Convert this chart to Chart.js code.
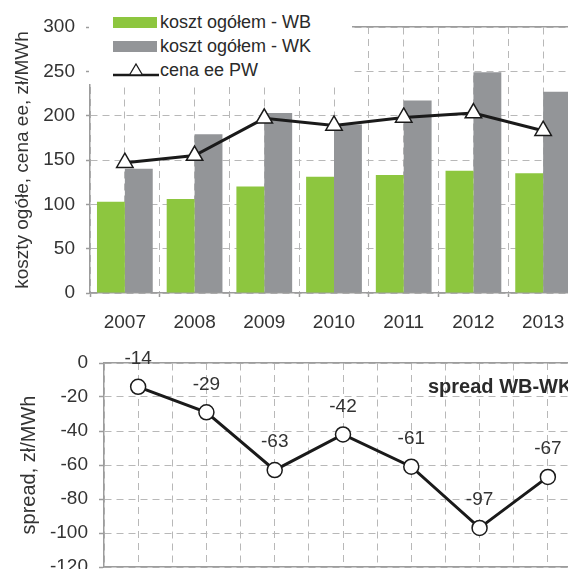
<!DOCTYPE html>
<html><head><meta charset="utf-8">
<script src="https://cdn.jsdelivr.net/npm/chart.js@4.4.1/dist/chart.umd.min.js"></script>
<style>
html,body{margin:0;padding:0;width:568px;height:569px;overflow:hidden;background:#fff;font-family:"Liberation Sans",Arial,sans-serif;}
#cTop{position:absolute;left:0;top:0;}
#cBot{position:absolute;left:0;top:340px;}
#legend{position:absolute;left:89px;top:0;width:263px;height:84px;background:#fff;}
.lrow{position:absolute;left:0;height:24px;width:263px;}
.lmark{position:absolute;left:24px;}
.ltext{position:absolute;left:71px;top:0;height:24px;line-height:24px;font-size:18px;color:#2a2a2a;white-space:nowrap;}
#spreadLbl{position:absolute;left:428px;top:374px;font-size:20px;font-weight:bold;color:#2a2a2a;white-space:nowrap;line-height:24px;}
</style></head>
<body>
<canvas id="cTop" width="600" height="340"></canvas>
<canvas id="cBot" width="600" height="260"></canvas>
<div id="legend"></div>
<div id="spreadLbl">spread WB-WK</div>
<script>
const years = ['2007','2008','2009','2010','2011','2012','2013'];
const kosztWB = [103, 106, 120, 131, 133, 138, 135];
const kosztWK = [140, 179, 203, 190, 217, 249, 227];
const cenaPW  = [147, 155, 197, 189, 198, 203, 183];
const spread  = [-14, -29, -63, -42, -61, -97, -67];
const labelWB = 'koszt ogółem - WB';
const labelWK = 'koszt ogółem - WK';
const labelPW = 'cena ee PW';
const topAxisTitle = 'koszty ogółe, cena ee, zł/MWh';
const botAxisTitle = 'spread, zł/MWh';

const GREEN = '#8dc63f', GREY = '#939598', LINE = '#1a1a1a';
const GRID = '#b8b8b8', AXIS = '#9c9c9c', TXT = '#333333';
const FONT = '"Liberation Sans", Arial, sans-serif';
Chart.defaults.font.family = FONT;
Chart.defaults.color = TXT;

const dash = [7, 5];

const topChart = new Chart(document.getElementById('cTop'), {
  type: 'bar',
  data: {
    labels: years,
    datasets: [
      { type: 'line', label: labelPW, data: cenaPW, borderColor: LINE, borderWidth: 3,
        pointStyle: 'triangle', pointRadius: 9.5, pointBackgroundColor: '#fff',
        pointBorderColor: LINE, pointBorderWidth: 1.5, tension: 0, order: 0, xAxisID: 'x' },
      { label: labelWB, data: kosztWB, backgroundColor: GREEN, categoryPercentage: 0.8, barPercentage: 1.0, order: 1, xAxisID: 'x' },
      { label: labelWK, data: kosztWK, backgroundColor: GREY, categoryPercentage: 0.8, barPercentage: 1.0, order: 1, xAxisID: 'x' }
    ]
  },
  options: {
    responsive: false, animation: false, devicePixelRatio: 1,
    layout: { padding: { left: 0, top: 27, right: 22, bottom: 0 } },
    plugins: { legend: { display: false }, tooltip: { enabled: false } },
    scales: {
      x: {
        type: 'category', position: 'bottom', offset: true,
        grid: { offset: true, color: GRID, lineWidth: 1, drawTicks: true, tickLength: 4, tickColor: AXIS, tickWidth: 1.5 },
        border: { display: true, color: AXIS, width: 1.5, dash: dash },
        ticks: { font: { size: 19 }, padding: 14, maxRotation: 0, color: TXT },
        afterFit: s => { s.height = 47; }
      },
      x2: {
        type: 'category', position: 'top', offset: true,
        grid: { offset: false, color: GRID, lineWidth: 1, drawTicks: false },
        border: { display: true, color: AXIS, width: 1.5, dash: dash },
        ticks: { display: false }
      },
      y: {
        min: 0, max: 300, position: 'left',
        ticks: { stepSize: 50, font: { size: 19 }, padding: 11, color: TXT },
        grid: { color: GRID, lineWidth: 1, drawTicks: true, tickLength: 4, tickColor: AXIS, tickWidth: 1.5 },
        border: { display: true, color: AXIS, width: 1.5, dash: dash },
        title: { display: true, text: topAxisTitle, font: { size: 19 }, color: TXT, padding: { top: 11, bottom: 0 } },
        afterFit: s => { s.width = 90; }
      }
    }
  }
});

const pointLabels = {
  id: 'pointLabels',
  afterDatasetsDraw(chart) {
    const ctx = chart.ctx;
    const meta = chart.getDatasetMeta(0);
    const vals = chart.data.datasets[0].data;
    ctx.save();
    ctx.font = '19px ' + FONT;
    ctx.fillStyle = TXT;
    ctx.textAlign = 'center';
    ctx.textBaseline = 'middle';
    meta.data.forEach((el, i) => { ctx.fillText(String(vals[i]), el.x, el.y - 28); });
    ctx.restore();
  }
};

const botChart = new Chart(document.getElementById('cBot'), {
  type: 'line',
  data: {
    labels: years,
    datasets: [
      { label: 'spread WB-WK', data: spread, borderColor: LINE, borderWidth: 3, pointStyle: 'circle',
        pointRadius: 7.5, pointBackgroundColor: '#fff', pointBorderColor: LINE, pointBorderWidth: 1.5,
        tension: 0, xAxisID: 'x', clip: false }
    ]
  },
  options: {
    responsive: false, animation: false, devicePixelRatio: 1,
    layout: { padding: { left: 0, top: 23, right: 18, bottom: 33 } },
    plugins: { legend: { display: false }, tooltip: { enabled: false } },
    scales: {
      x: {
        type: 'category', position: 'bottom', offset: true,
        grid: { offset: false, color: GRID, lineWidth: 1, drawTicks: false },
        border: { display: true, color: AXIS, width: 1.5, dash: dash },
        ticks: { display: false }
      },
      x2: {
        type: 'category', position: 'top', offset: true,
        grid: { offset: true, color: GRID, lineWidth: 1, drawTicks: false },
        border: { display: true, color: AXIS, width: 1.5, dash: dash },
        ticks: { display: false }
      },
      y: {
        min: -120, max: 0, position: 'left',
        ticks: { stepSize: 20, font: { size: 19 }, padding: 11, color: TXT },
        grid: { color: GRID, lineWidth: 1, drawTicks: true, tickLength: 5, tickColor: AXIS, tickWidth: 1.5 },
        border: { display: true, color: AXIS, width: 1.5, dash: dash },
        title: { display: true, text: botAxisTitle, font: { size: 20 }, color: TXT, padding: { top: 17, bottom: 0 } },
        afterFit: s => { s.width = 104; }
      }
    }
  },
  plugins: [pointLabels]
});

// HTML legend built from the top chart's datasets
(function buildLegend() {
  const lg = document.getElementById('legend');
  const ds = topChart.data.datasets;
  const order = [1, 2, 0];
  order.forEach((di, row) => {
    const d = ds[di];
    const r = document.createElement('div');
    r.className = 'lrow';
    r.style.top = (10 + row * 24) + 'px';
    let mark;
    if (d.type === 'line') {
      mark = document.createElementNS('http://www.w3.org/2000/svg', 'svg');
      mark.setAttribute('width', '46'); mark.setAttribute('height', '24');
      mark.setAttribute('class', 'lmark');
      mark.style.top = '0px';
      mark.innerHTML = '<line x1="0" y1="17" x2="46" y2="17" stroke="' + d.borderColor + '" stroke-width="2.5"/>' +
        '<polygon points="23,6 29.5,17 16.5,17" fill="#fff" stroke="' + d.borderColor + '" stroke-width="1.3"/>';
    } else {
      mark = document.createElement('div');
      mark.className = 'lmark';
      mark.style.cssText = 'top:7px;width:44px;height:11px;background:' + d.backgroundColor + ';';
    }
    r.appendChild(mark);
    const t = document.createElement('div');
    t.className = 'ltext';
    t.textContent = d.label;
    r.appendChild(t);
    lg.appendChild(r);
  });
})();
</script>
</body></html>
